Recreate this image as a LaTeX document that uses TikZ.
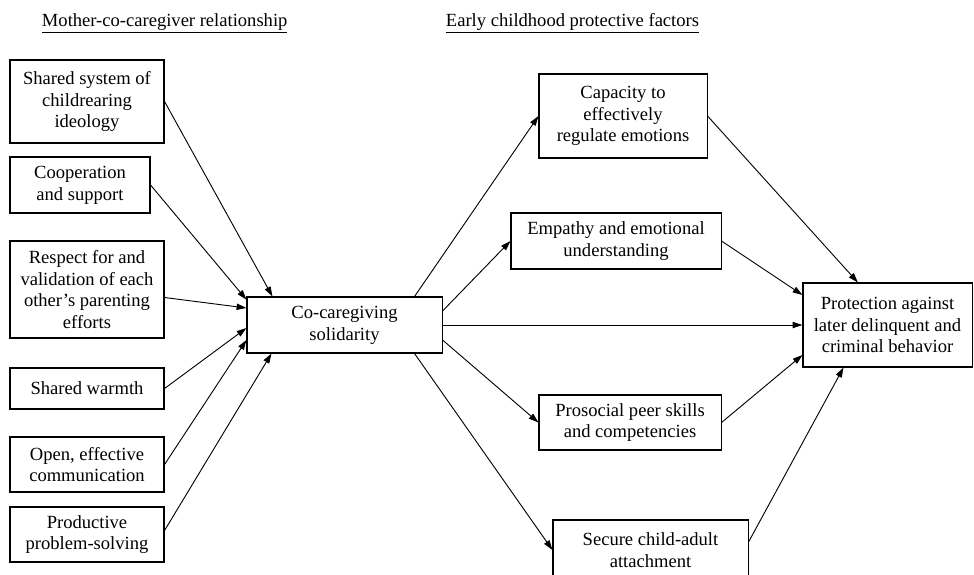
\documentclass[tikz,border=0pt]{standalone}
\usepackage{fontspec}
\setmainfont{Liberation Serif}
\usepackage{tikz}
\usetikzlibrary{arrows.meta}
\usetikzlibrary{positioning}
\tikzset{box/.style = {draw, line width = 0.75pt, align = center, inner sep = 0,
    font = \fontsize{13.2}{15.5}\selectfont}}
\tikzset{arr/.style = {-{Triangle[length = 7pt, width = 4.5pt]}, line width = 0.65pt}}
\tikzset{head/.style = {font = \fontsize{13.2}{15.5}\selectfont, anchor = base west}}

\begin{document}
\begin{tikzpicture}[x = 0.025cm, y = -0.025cm]
    \useasboundingbox (0, 0) rectangle (974, 574);
    % headings
    \node [head] (hleft) at (37, 26) {\underline{Mother-co-caregiver relationship}};
    \node [head] (hright) at (441, 26) {\underline{Early childhood protective factors}};
    % relationship boxes
    \node [box, minimum width = 3.85cm, minimum height = 2.075cm] (shared) at (87, 101.5)
      {Shared system of\\childrearing\\ideology};
    \node [box, minimum width = 3.5cm, minimum height = 1.4cm] (coop) at (80, 185)
      {Cooperation\\and support};
    \node [box, minimum width = 3.85cm, minimum height = 2.425cm] (respect) at (87, 289.5)
      {Respect for and\\validation of each\\other's parenting\\efforts};
    \node [box, minimum width = 3.85cm, minimum height = 1.025cm] (warmth) at (87, 388.5)
      {Shared warmth};
    \node [box, minimum width = 3.85cm, minimum height = 1.375cm] (comm) at (87, 464.5)
      {Open, effective\\communication};
    \node [box, minimum width = 3.85cm, minimum height = 1.375cm] (solve) at (87, 534.5)
      {Productive\\problem-solving};
    % solidarity
    \node [box, minimum width = 4.875cm, minimum height = 1.4cm] (solid) at (344.5, 325)
      {Co-caregiving\\solidarity};
    % protective factors
    \node [box, minimum width = 4.2cm, minimum height = 2.1cm] (emot) at (623, 116)
      {Capacity to\\effectively\\regulate emotions};
    \node [box, minimum width = 5.25cm, minimum height = 1.4cm] (empathy) at (616, 241)
      {Empathy and emotional\\understanding};
    \node [box, minimum width = 4.55cm, minimum height = 1.375cm] (peer) at (630, 422.5)
      {Prosocial peer skills\\and competencies};
    \node [box, minimum width = 4.875cm, minimum height = 1.5cm] (attach) at (650.5, 550)
      {Secure child-adult\\attachment};
    \node [box, minimum width = 4.225cm, minimum height = 2.1cm] (protect) at (887.5, 325)
      {Protection against\\later delinquent and\\criminal behavior};
    % left arrows
    \draw [arr] (shared.east) -- ([xshift = 0.65cm]solid.north west);
    \draw [arr] (coop.east) -- ([yshift = -0.08cm]solid.north west);
    \draw [arr] ([yshift = -0.2cm]respect.east) -- ([yshift = 0.425cm]solid.west);
    \draw [arr] (warmth.east) -- ([yshift = -0.075cm]solid.west);
    \draw [arr] (comm.east) -- ([yshift = -0.375cm]solid.west);
    \draw [arr] ([yshift = 0.1cm]solve.east) -- ([xshift = 0.625cm]solid.south west);
    % right arrows
    \draw [arr] ([xshift = -0.7cm]solid.north east) -- (emot.west);
    \draw [arr] ([yshift = 0.35cm]solid.east) -- (empathy.west);
    \draw [arr] (solid.east) -- (protect.west);
    \draw [arr] ([yshift = -0.375cm]solid.east) -- (peer.west);
    \draw [arr] ([xshift = -0.7cm]solid.south east) -- (attach.west);
    \draw [arr] (emot.east) -- ([xshift = -0.74cm]protect.north);
    \draw [arr] (empathy.east) -- ([yshift = 0.75cm]protect.west);
    \draw [arr] (peer.east) -- ([yshift = -0.75cm]protect.west);
    \draw [arr] ([yshift = 0.2cm]attach.east) -- ([xshift = -1.1cm]protect.south);
\end{tikzpicture}
\end{document}
